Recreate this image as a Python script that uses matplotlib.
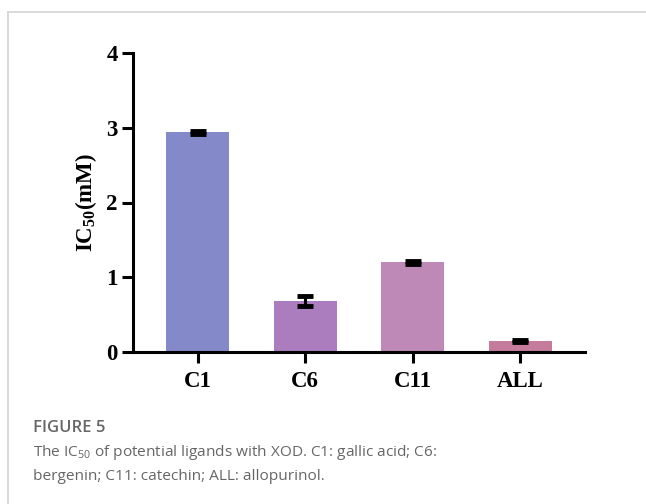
import matplotlib.pyplot as plt
import numpy as np

plt.rcParams["mathtext.default"] = "regular"

# data
labels = ["C1", "C6", "C11", "ALL"]
ic50 = [2.94, 0.68, 1.20, 0.145]
err = [0.02, 0.07, 0.02, 0.012]
colors = ["#8489C9", "#AC7DBE", "#BE89B6", "#C47B9C"]

fig = plt.figure(figsize=(6.46, 5.04), dpi=100)

# light frame around the figure panel
fig.add_artist(plt.Line2D([8 / 646, 1.0], [1 - 12 / 504, 1 - 12 / 504],
                          transform=fig.transFigure, color="#d4d4d4", lw=1.2))
fig.add_artist(plt.Line2D([8 / 646, 8 / 646], [0, 1 - 12 / 504],
                          transform=fig.transFigure, color="#d4d4d4", lw=1.2))

ax = fig.add_axes([133 / 646, 1 - 352 / 504, (585 - 133) / 646, (352 - 53) / 504])
x = np.arange(len(labels))
ax.bar(x, ic50, width=0.585, color=colors, zorder=1)
ax.errorbar(x, ic50, yerr=err, fmt="none", ecolor="black", elinewidth=2.2,
            capsize=5.5, capthick=3.5, zorder=3)

ax.set_xlim(-0.6, 3.6)
ax.set_ylim(0, 4)
ax.set_yticks([0, 1, 2, 3, 4])
ax.set_xticks(x)
ax.set_xticklabels(labels)

for s in ["top", "right"]:
    ax.spines[s].set_visible(False)
for s in ["left", "bottom"]:
    ax.spines[s].set_linewidth(2.2)

ax.tick_params(axis="both", width=2.2, length=8, direction="out")
ax.tick_params(axis="y", pad=3)
ax.tick_params(axis="x", pad=6)
for t in ax.get_xticklabels() + ax.get_yticklabels():
    t.set_fontfamily("Liberation Serif")
    t.set_fontweight("bold")
    t.set_fontsize(16.5)

ax.set_ylabel("IC$_{50}$(mM)", fontfamily="Liberation Serif",
              fontweight="bold", fontsize=16.5, labelpad=5)

# caption
fig.text(33 / 646, 1 - 428 / 504, "FIGURE 5", fontfamily="Open Sans",
         fontweight="semibold", fontsize=12, color="#666666", va="center")
fig.text(33 / 646, 1 - 452 / 504,
         "The IC$_{50}$ of potential ligands with XOD. C1: gallic acid; C6:",
         fontfamily="Open Sans", fontsize=11.1, color="#666666", va="center")
fig.text(33 / 646, 1 - 477 / 504,
         "bergenin; C11: catechin; ALL: allopurinol.",
         fontfamily="Open Sans", fontsize=11.1, color="#666666", va="center")

fig.savefig("out.png", dpi=100)
